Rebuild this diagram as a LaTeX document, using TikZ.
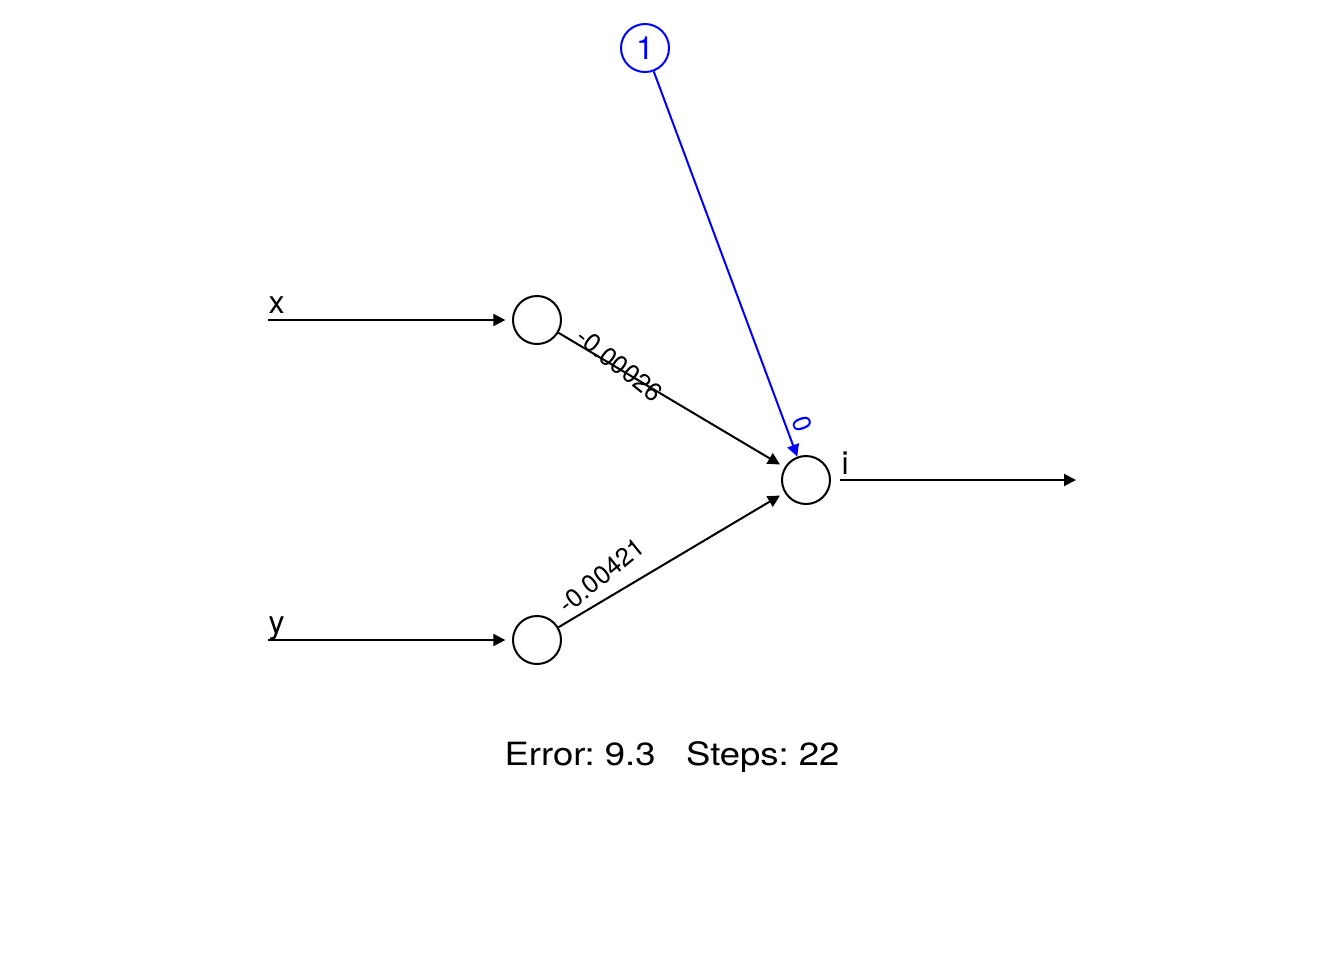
\documentclass[tikz,border=0pt]{standalone}
\usepackage{fontspec}
\setmainfont{TeX Gyre Heros}
\newfontfamily\infofont{TeX Gyre Heros}[FakeStretch=1.14]
\usetikzlibrary{arrows.meta}
\frenchspacing

\begin{document}
\begin{tikzpicture}[
  x=0.375pt, y=-0.375pt,
  font=\fontsize{12}{14}\selectfont,
  neuron/.style={
    circle, draw, line width=0.75pt,
    minimum size=18pt, inner sep=0pt
  },
  arrow/.style={
    -{Triangle[length=4.5pt, width=4.5pt]},
    line width=0.75pt
  },
  weight/.style={font=\fontsize{9.6}{11}\selectfont, inner sep=1pt},
  inlabel/.style={anchor=base west, inner sep=0pt}
]
\useasboundingbox (0,0) rectangle (1344,960);

\node[neuron] (x1) at (537,320) {};
\node[neuron] (y1) at (537,640) {};
\node[neuron] (i1) at (806,480) {};
\node[neuron, draw=blue, text=blue] (b1) at (645,48) {1};

\coordinate (xin) at (268,320);
\coordinate (yin) at (268,640);
\coordinate (iout) at (1076,480);

\node[inlabel] (xlab) at (268,313) {x};
\node[inlabel] (ylab) at (268,633) {y};
\node[inlabel] (ilab) at (841,474) {i};

\draw[arrow, shorten >=2.5pt] (xin) -- (x1);
\draw[arrow, shorten >=2.5pt] (yin) -- (y1);
\draw[arrow, shorten <=3.4pt] (i1) -- (iout);

\draw[arrow, shorten >=2pt] (x1) -- node[weight, pos=0.27, yshift=1.5pt, rotate=-39] {-0.00026} (i1);
\draw[arrow, shorten >=2pt] (y1) -- node[weight, pos=0.19, yshift=9.75pt, rotate=39] {-0.00421} (i1);
\draw[arrow, blue] (b1) -- node[weight, sloped, above, pos=0.93, inner sep=2.2pt] {0} (i1);

\node[anchor=base, font=\infofont\fontsize{12}{14}\selectfont] (err) at (672,765) {Error: 9.3\ \ \ Steps: 22};

\end{tikzpicture}
\end{document}
